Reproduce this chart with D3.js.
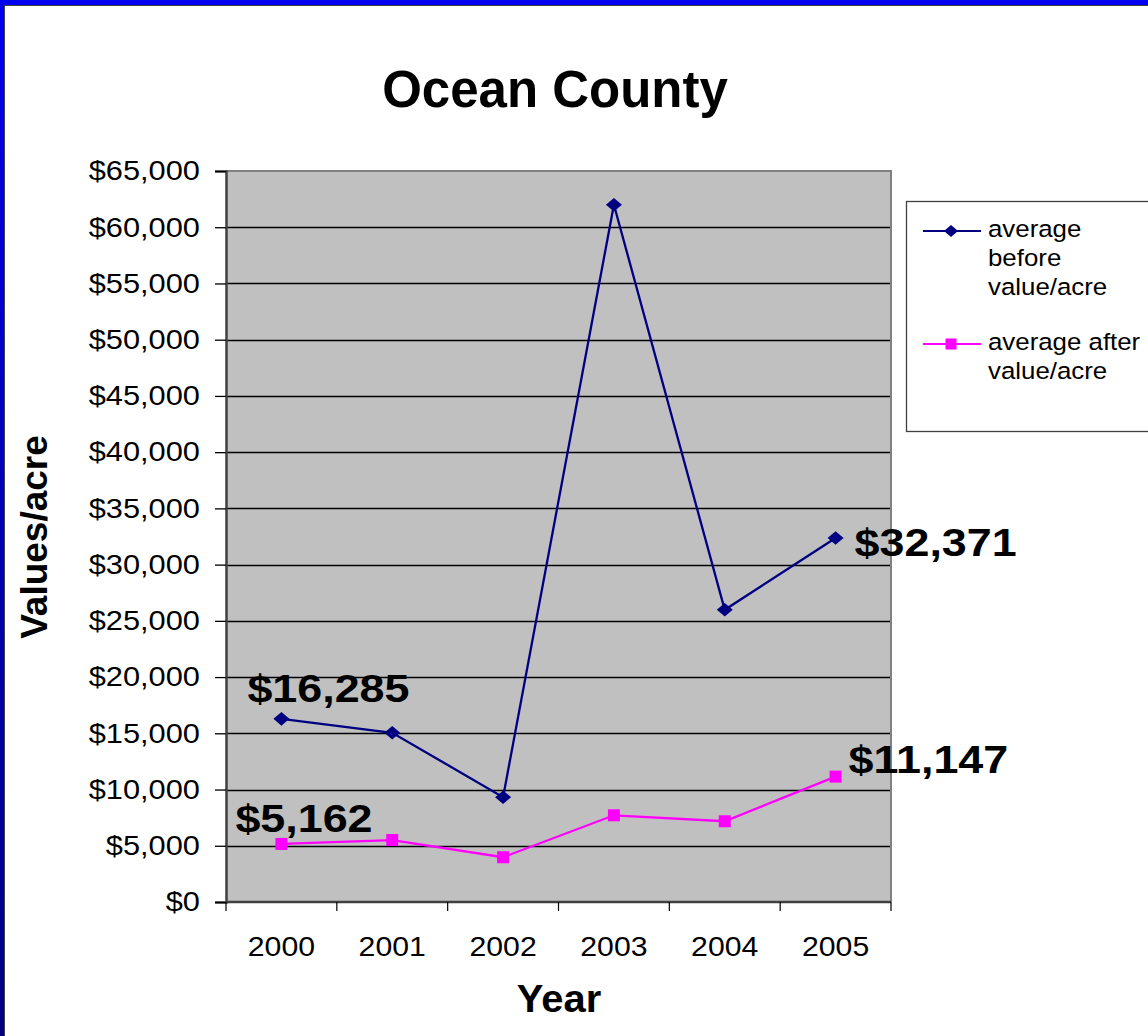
<!DOCTYPE html>
<html>
<head>
<meta charset="utf-8">
<script src="https://cdn.jsdelivr.net/npm/d3@7"></script>
<style>
  html, body { margin: 0; padding: 0; background: #fff; }
  svg { display: block; font-family: "Liberation Sans", Arial, sans-serif; }
</style>
</head>
<body>
<svg id="chart" width="1148" height="1036"></svg>
<script>
// ---- data ----
const years = ["2000", "2001", "2002", "2003", "2004", "2005"];
const beforeValues = [16285, 15050, 9320, 62000, 25980, 32371];
const afterValues = [5162, 5510, 3980, 7710, 7180, 11147];
const yTicks = [0, 5000, 10000, 15000, 20000, 25000, 30000, 35000, 40000, 45000, 50000, 55000, 60000, 65000];
const seriesNames = [["average", "before", "value/acre"], ["average after", "value/acre"]];
const labelledPoints = [
  { series: 0, index: 0, text: "$16,285" },
  { series: 0, index: 5, text: "$32,371" },
  { series: 1, index: 0, text: "$5,162" },
  { series: 1, index: 5, text: "$11,147" }
];

// ---- layout ----
const svg = d3.select("#chart");
const W = 1148, H = 1036;
const plot = { left: 226, top: 171, right: 891, bottom: 902 };
const colors = ["#000080", "#FF00FF"];

// frame
const defs = svg.append("defs");
const grad = defs.append("linearGradient").attr("id", "leftGrad").attr("x1", 0).attr("y1", 0).attr("x2", 0).attr("y2", 1);
grad.append("stop").attr("offset", "0%").attr("stop-color", "#0000F0");
grad.append("stop").attr("offset", "100%").attr("stop-color", "#000080");
svg.append("rect").attr("x", 0).attr("y", 0).attr("width", W).attr("height", H).attr("fill", "#fff");
svg.append("rect").attr("x", 0).attr("y", 0).attr("width", W).attr("height", 5).attr("fill", "#0000F0");
svg.append("rect").attr("x", 0).attr("y", 0).attr("width", 4).attr("height", H).attr("fill", "url(#leftGrad)");
svg.append("line").attr("x1", 4).attr("x2", W).attr("y1", 5.5).attr("y2", 5.5).attr("stroke", "#404040").attr("stroke-width", 1);
svg.append("line").attr("x1", 4.5).attr("x2", 4.5).attr("y1", 5).attr("y2", H).attr("stroke", "#404040").attr("stroke-width", 1);

// scales
const x = d3.scaleBand().domain(years).range([plot.left, plot.right]);
const y = d3.scaleLinear().domain([0, 65000]).range([plot.bottom, plot.top]);
const cx = d => x(d) + x.bandwidth() / 2;

// plot background
svg.append("rect")
  .attr("x", plot.left).attr("y", plot.top)
  .attr("width", plot.right - plot.left).attr("height", plot.bottom - plot.top)
  .attr("fill", "#C0C0C0");

// gridlines
svg.append("g").selectAll("line").data(yTicks.filter(t => t > 0 && t < 65000)).join("line")
  .attr("x1", plot.left).attr("x2", plot.right)
  .attr("y1", d => Math.round(y(d)) + 0.5).attr("y2", d => Math.round(y(d)) + 0.5)
  .attr("stroke", "#000").attr("stroke-width", 1.3);

// plot border top/right
svg.append("path")
  .attr("d", `M${plot.left},${plot.top} H${plot.right} V${plot.bottom}`)
  .attr("fill", "none").attr("stroke", "#808080").attr("stroke-width", 2);

// y axis
const yAxis = d3.axisLeft(y).tickValues(yTicks).tickSize(11).tickPadding(14)
  .tickFormat(d => "$" + d3.format(",")(d));
const gy = svg.append("g").attr("transform", `translate(${plot.left},0)`).call(yAxis);
gy.select(".domain").attr("stroke", "#404040").attr("stroke-width", 2.5);
gy.selectAll(".tick line").attr("stroke", "#000").attr("stroke-width", 1.3);
gy.selectAll(".tick text")
  .attr("font-size", 27.5).attr("fill", "#000")
  .attr("x", null)
  .attr("transform", "translate(-26,0) scale(1.12,1)");

// x axis
const xAxis = d3.scaleLinear().domain([0, years.length]).range([plot.left, plot.right]);
const gx = svg.append("g").attr("transform", `translate(0,${plot.bottom})`);
gx.append("line").attr("x1", plot.left).attr("x2", plot.right).attr("y1", 0).attr("y2", 0)
  .attr("stroke", "#404040").attr("stroke-width", 2.5);
gx.selectAll("line.tk").data(d3.range(years.length + 1)).join("line").attr("class", "tk")
  .attr("x1", d => xAxis(d)).attr("x2", d => xAxis(d)).attr("y1", 0).attr("y2", 9)
  .attr("stroke", "#000").attr("stroke-width", 1.2);
gx.selectAll("text").data(years).join("text")
  .attr("transform", d => `translate(${cx(d)},54) scale(1.12,1)`)
  .attr("text-anchor", "middle").attr("font-size", 27).attr("fill", "#000")
  .text(d => d);

// lines
const series = [beforeValues, afterValues];
const line = d3.line().x((d, i) => cx(years[i])).y(d => y(d));
series.forEach((vals, s) => {
  svg.append("path").datum(vals).attr("d", line)
    .attr("fill", "none").attr("stroke", colors[s]).attr("stroke-width", 2.3);
});

// markers
const diamond = (size) => `M0,${-size / 2 * 0.85} L${size / 2},0 L0,${size / 2 * 0.85} L${-size / 2},0 Z`;
svg.append("g").selectAll("path").data(beforeValues).join("path")
  .attr("transform", (d, i) => `translate(${cx(years[i])},${y(d)})`)
  .attr("d", diamond(16)).attr("fill", colors[0]);
svg.append("g").selectAll("rect").data(afterValues).join("rect")
  .attr("x", (d, i) => cx(years[i]) - 6).attr("y", d => y(d) - 6)
  .attr("width", 12).attr("height", 12).attr("fill", colors[1]);

// data labels
const labelOffsets = { "0-0": [-34, -17], "0-5": [19, 18], "1-0": [-46, -12], "1-5": [13, -4] };
svg.append("g").selectAll("text").data(labelledPoints).join("text")
  .attr("transform", d => {
    const v = series[d.series][d.index];
    const o = labelOffsets[d.series + "-" + d.index];
    return `translate(${cx(years[d.index]) + o[0]},${y(v) + o[1]}) scale(1.15,1)`;
  })
  .attr("font-size", 39).attr("font-weight", "bold").attr("fill", "#000")
  .text(d => d.text);

// title
svg.append("text").attr("x", 555).attr("y", 107).attr("text-anchor", "middle")
  .attr("font-size", 51).attr("font-weight", "bold").text("Ocean County");

// axis titles
svg.append("text").attr("transform", "translate(47,537) rotate(-90)").attr("text-anchor", "middle")
  .attr("font-size", 37).attr("font-weight", "bold").text("Values/acre");
svg.append("text").attr("transform", "translate(559,1012) scale(1.05,1)").attr("text-anchor", "middle")
  .attr("font-size", 38).attr("font-weight", "bold").text("Year");

// legend
const lg = svg.append("g");
lg.append("rect").attr("x", 906.5).attr("y", 201.5).attr("width", 260).attr("height", 230)
  .attr("fill", "#fff").attr("stroke", "#404040").attr("stroke-width", 1.3);
const legendRows = [231, 344];
seriesNames.forEach((lines, s) => {
  const ly = legendRows[s];
  lg.append("line").attr("x1", 923).attr("x2", 981).attr("y1", ly).attr("y2", ly)
    .attr("stroke", colors[s]).attr("stroke-width", 2);
  if (s === 0) {
    lg.append("path").attr("transform", `translate(951,${ly})`).attr("d", diamond(14)).attr("fill", colors[0]);
  } else {
    lg.append("rect").attr("x", 945.5).attr("y", ly - 5.5).attr("width", 11).attr("height", 11).attr("fill", colors[1]);
  }
  lines.forEach((t, k) => {
    lg.append("text").attr("transform", `translate(988,${ly + 6 + k * 29}) scale(1.1,1)`)
      .attr("font-size", 23.5).attr("fill", "#000").text(t);
  });
});
</script>
</body>
</html>
